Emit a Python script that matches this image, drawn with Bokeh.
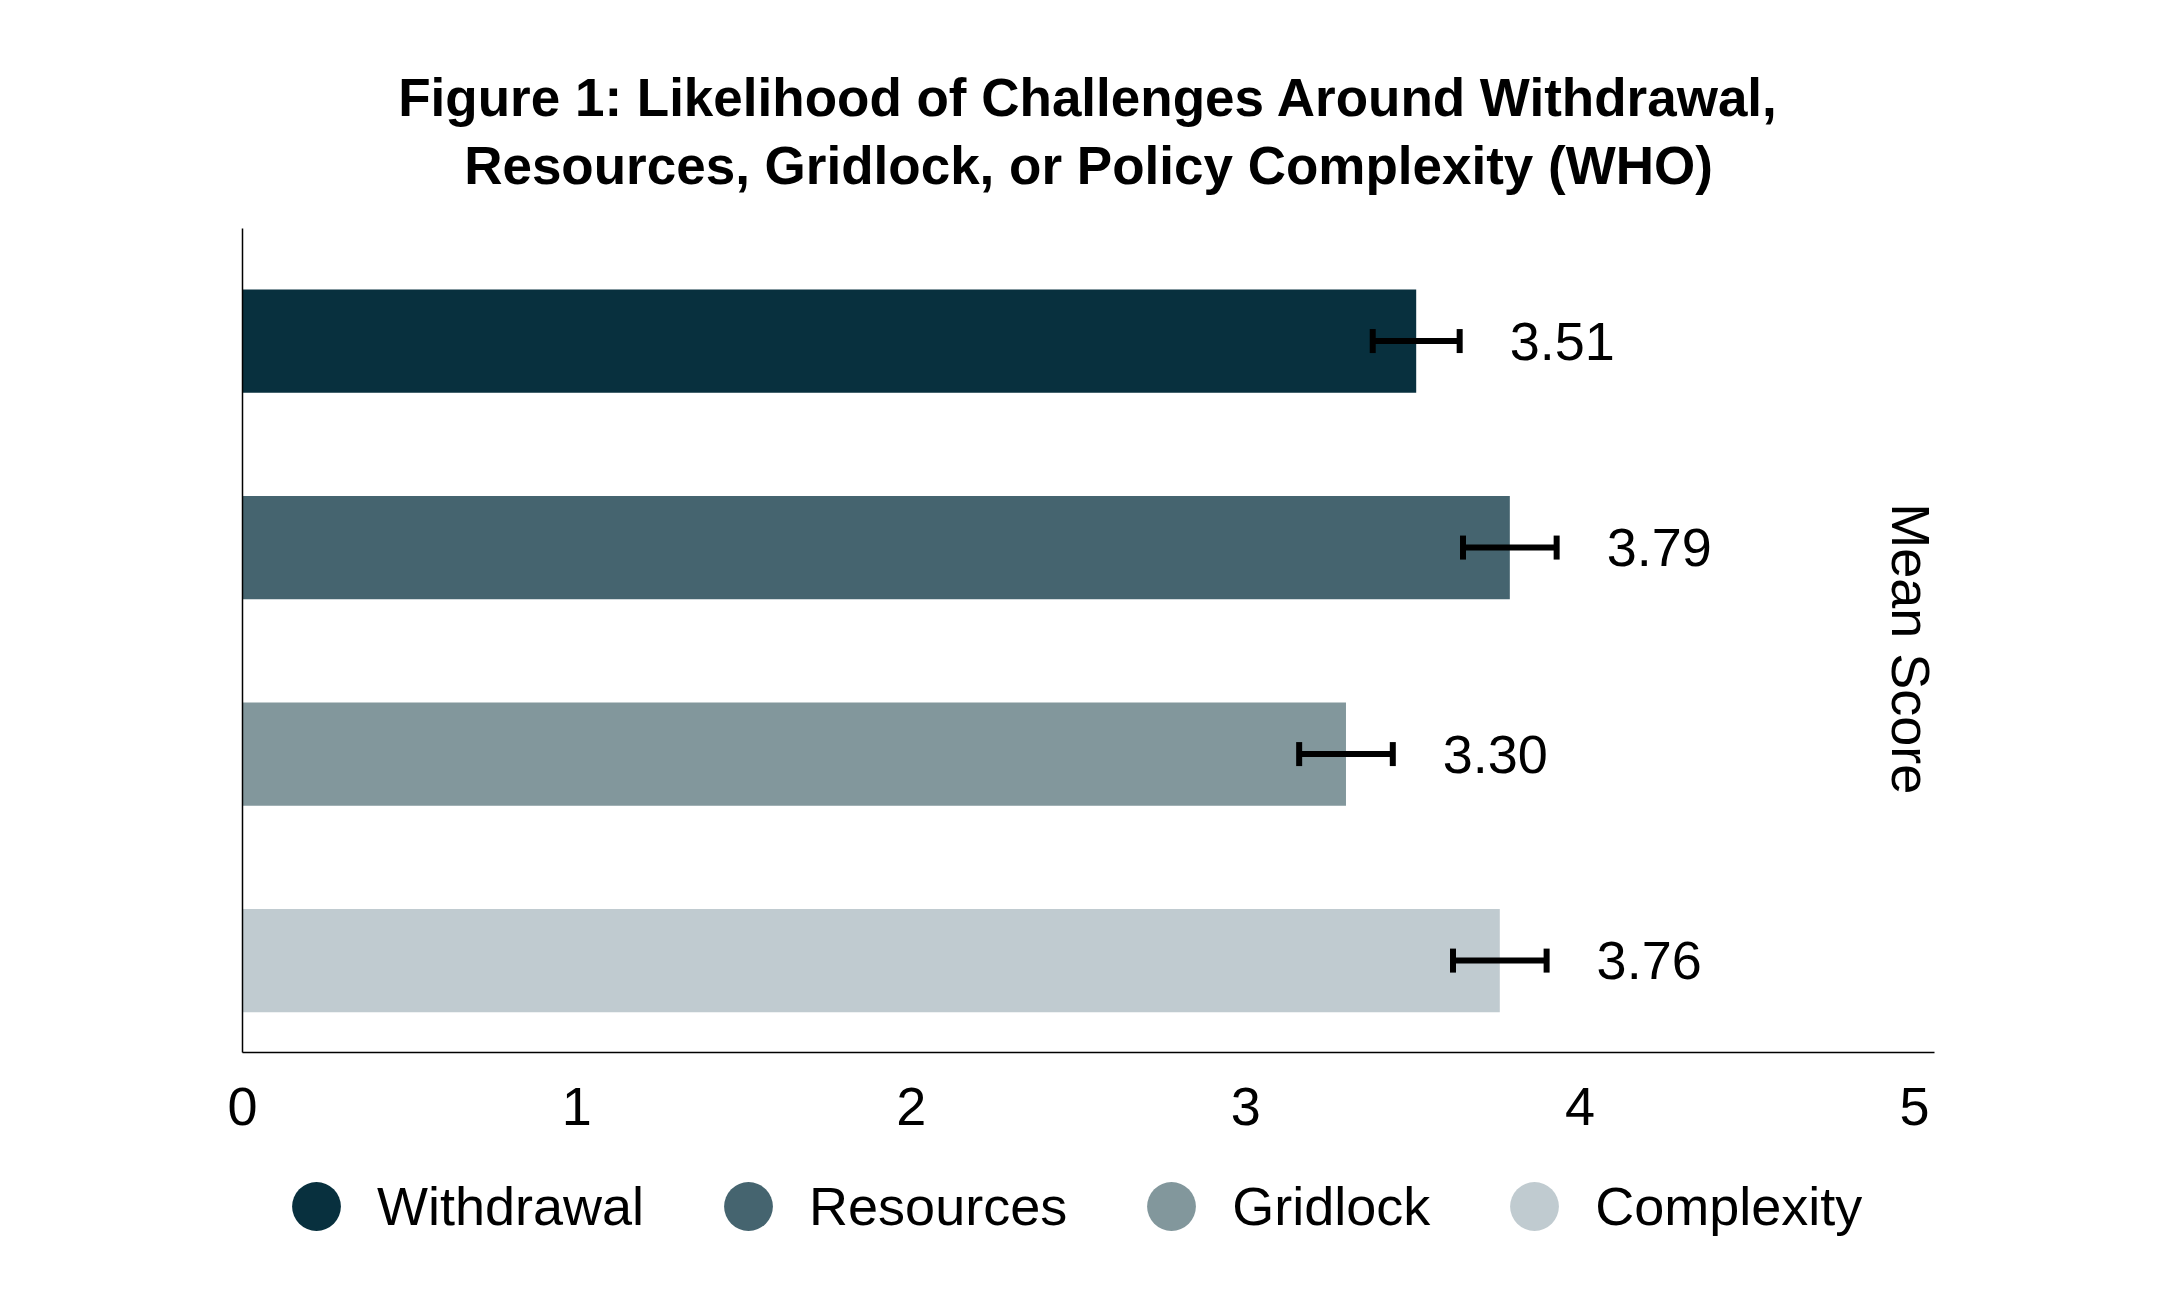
import math
from bokeh.plotting import figure
from bokeh.layouts import column
from bokeh.models import (ColumnDataSource, Whisker, TeeHead, LabelSet, Label, Title,
                          Legend, LegendItem, FixedTicker, Range1d)
from bokeh.core.properties import value
from bokeh.embed import file_html
from bokeh.resources import INLINE

# ---- data ----
categories = ["Withdrawal", "Resources", "Gridlock", "Complexity"]
means = [3.51, 3.79, 3.30, 3.76]
errors = [0.13, 0.14, 0.14, 0.14]
colors = ["#08303E", "#45646F", "#82979C", "#C0CBD0"]
x_ticks = [0, 1, 2, 3, 4, 5]
title_lines = ["Figure 1: Likelihood of Challenges Around Withdrawal,",
               "Resources, Gridlock, or Policy Complexity (WHO)"]
axis_title = "Mean Score"

ypos = list(range(len(categories), 0, -1))
src = ColumnDataSource(dict(
    cat=categories,
    y=ypos,
    value=means,
    lower=[m - e for m, e in zip(means, errors)],
    upper=[m + e for m, e in zip(means, errors)],
    color=colors,
    label=[f"{m:.2f}" for m in means],
))

FONT = "Liberation Sans"
W = 2160
H_MAIN = 1152
H_LEG = 138

p = figure(width=W, height=H_MAIN, output_backend="svg", toolbar_location=None,
           title=None,
           x_range=Range1d(0, 5.06), y_range=Range1d(0.555, 4.545),
           min_border_left=242, min_border_right=226, min_border_top=228,
           min_border_bottom=100)
p.outline_line_color = None
p.grid.visible = False
p.background_fill_color = "white"
p.border_fill_color = "white"

# two-line title, each line centred (first added is closest to the plot)
t2 = Title(text=title_lines[1], align="center", text_font=FONT,
           text_font_style="bold", text_font_size="53px", text_color="black",
           standoff=67)
t1 = Title(text=title_lines[0], align="center", text_font=FONT,
           text_font_style="bold", text_font_size="53px", text_color="black",
           standoff=-52)
p.add_layout(t2, "above")
p.add_layout(t1, "above")

# bars
p.hbar(y="y", right="value", left=0, height=0.5, fill_color="color",
       line_color=None, source=src)

# error bars (drawn above the bars)
w = Whisker(base="y", lower="lower", upper="upper", dimension="width", source=src,
            line_color="black", line_width=6, level="overlay",
            lower_head=TeeHead(size=24, line_width=6, line_color="black"),
            upper_head=TeeHead(size=24, line_width=6, line_color="black"))
p.add_layout(w)

# value labels
labels = LabelSet(x="upper", y="y", text="label", source=src, x_offset=50,
                  text_baseline="middle", text_align="left",
                  text_font=value(FONT), text_font_size=value("54px"),
                  text_color="black")
p.add_layout(labels)

# rotated axis title inside the frame on the right
p.add_layout(Label(x=4.99, y=2.51, text=axis_title, angle=-math.pi / 2,
                   text_align="center", text_baseline="alphabetic",
                   text_font=FONT, text_font_size="54px", text_color="black"))

# axes
xa = p.xaxis[0]
xa.ticker = FixedTicker(ticks=x_ticks)
xa.major_tick_line_color = None
xa.minor_tick_line_color = None
xa.major_tick_out = 0
xa.major_tick_in = 0
xa.axis_line_color = "black"
xa.axis_line_width = 1.5
xa.major_label_text_font = FONT
xa.major_label_text_font_size = "54px"
xa.major_label_text_color = "black"
xa.major_label_standoff = 35

ya = p.yaxis[0]
ya.ticker = FixedTicker(ticks=[])
ya.major_tick_line_color = None
ya.minor_tick_line_color = None
ya.axis_line_color = "black"
ya.axis_line_width = 1.5

# legend strip below the chart (circle markers; marker size 0 so no point is drawn)
pl = figure(width=W, height=H_LEG, output_backend="svg", toolbar_location=None,
            x_range=Range1d(0, 1), y_range=Range1d(0, 1),
            x_axis_location=None, y_axis_location=None, min_border=0)
pl.outline_line_color = None
pl.grid.visible = False
dots = pl.scatter(x="value", y="y", size=0, fill_color="color", line_color=None,
                  source=src)
items = [LegendItem(label=c, renderers=[dots], index=i) for i, c in enumerate(categories)]
legend = Legend(items=items, orientation="horizontal", location=(13, 23),
                glyph_width=122, glyph_height=122, label_standoff=-10, spacing=43,
                padding=0, margin=0, border_line_color=None,
                background_fill_alpha=0, label_text_font=FONT,
                label_text_font_size="54px", label_text_color="black")
pl.add_layout(legend)

layout = column(p, pl, spacing=0)
open("out.html", "w").write(file_html(layout, INLINE))
